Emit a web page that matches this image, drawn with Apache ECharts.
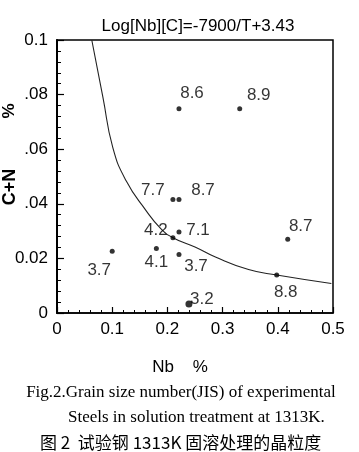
<!DOCTYPE html>
<html>
<head>
<meta charset="utf-8">
<script src="https://cdn.jsdelivr.net/npm/echarts@6/dist/echarts.min.js"></script>
<style>html,body{margin:0;padding:0;background:#fff;}#c{width:359px;height:452px;}</style>
</head>
<body>
<div id="c"></div>
<script>
// Data
const nbValues   = [0.221, 0.331, 0.210, 0.221, 0.221, 0.210, 0.418, 0.100, 0.180, 0.221, 0.398, 0.239];
const cnValues   = [0.0748, 0.0748, 0.0416, 0.0416, 0.0297, 0.0276, 0.0270, 0.0226, 0.0236, 0.0214, 0.0139, 0.0033];
const grainNums  = ['8.6', '8.9', '7.7', '8.7', '7.1', '4.2', '8.7', '3.7', '4.1', '3.7', '8.8', '3.2'];
const curveNb    = [0.063, 0.0833, 0.101, 0.125, 0.161, 0.188, 0.210, 0.250, 0.287, 0.347, 0.398, 0.497];
const curveCN    = [0.100, 0.0789, 0.0607, 0.0485, 0.0376, 0.0309, 0.0276, 0.0242, 0.0205, 0.0159, 0.0139, 0.0108];
const xTickLabels = ['0', '0.1', '0.2', '0.3', '0.4', '0.5'];
const yTickLabels = ['0', '0.02', '.04', '.06', '.08', '0.1'];

// Label placement (layout only)
const labelOffsets = [[13,-15],[19,-13],[-20,-9],[24,-9],[19,-2],[-17,-7],[13,-13],[-13,19],[0,14],[17,12],[9,17],[13,-5]];
const markSizes    = [5,5,5,5,5,5,5,5,5,5,5,7];

const FONT = "'Liberation Sans', Arial, sans-serif";
const chart = echarts.init(document.getElementById('c'), null, {renderer: 'canvas'});

const pts = nbValues.map((v, i) => ({
  value: [v, cnValues[i]],
  symbolSize: markSizes[i],
  label: {show: true, formatter: grainNums[i], position: 'inside', offset: labelOffsets[i]}
}));
const curve = curveNb.map((v, i) => [v, curveCN[i]]);

chart.setOption({
  animation: false,
  backgroundColor: '#fff',
  title: {
    text: 'Log[Nb][C]=-7900/T+3.43',
    left: 193, top: 13, textAlign: 'center',
    textStyle: {fontFamily: FONT, fontSize: 17, fontWeight: 'normal', color: '#000'}
  },
  grid: {left: 57, right: 26, top: 40, bottom: 139, show: true, borderColor: '#000', borderWidth: 1.5, backgroundColor: 'transparent'},
  xAxis: {
    type: 'value', min: 0, max: 0.5, interval: 0.1,
    axisLine: {lineStyle: {color: '#000', width: 1.5}},
    axisTick: {inside: true, length: 6, lineStyle: {color: '#000', width: 1.2}},
    minorTick: {show: true, splitNumber: 5, length: 3, lineStyle: {color: '#000', width: 1}},
    splitLine: {show: false},
    axisLabel: {margin: 8, fontFamily: FONT, fontSize: 17, color: '#000',
      formatter: (v) => xTickLabels[Math.round(v * 10)]}
  },
  yAxis: {
    type: 'value', min: 0, max: 0.1, interval: 0.02,
    axisLine: {lineStyle: {color: '#000', width: 2}},
    axisTick: {inside: true, length: 7, lineStyle: {color: '#000', width: 1.2}},
    minorTick: {show: true, splitNumber: 5, length: 4, lineStyle: {color: '#000', width: 1}},
    splitLine: {show: false},
    axisLabel: {margin: 9, fontFamily: FONT, fontSize: 17, color: '#000',
      formatter: (v) => yTickLabels[Math.round(v * 50)]}
  },
  series: [
    {
      type: 'line', data: curve, smooth: true, symbol: 'none',
      lineStyle: {color: '#222', width: 1.1}, z: 2
    },
    {
      type: 'scatter', data: pts, symbol: 'circle',
      itemStyle: {color: '#000'},
      label: {fontFamily: FONT, fontSize: 17, color: '#000'}, z: 3
    }
  ],
  graphic: [
    {type: 'text', x: 10, y: 187, rotation: Math.PI / 2,
      style: {text: 'C+N', font: "bold 18px 'Liberation Sans', Arial, sans-serif", fill: '#000', align: 'center', verticalAlign: 'middle'}},
    {type: 'text', x: 9, y: 111, rotation: Math.PI / 2,
      style: {text: '%', font: "bold 17px 'Liberation Sans', Arial, sans-serif", fill: '#000', align: 'center', verticalAlign: 'middle'}},
    {type: 'text', x: 180, y: 367,
      style: {text: 'Nb    %', font: "17px 'Liberation Sans', Arial, sans-serif", fill: '#000', align: 'center', verticalAlign: 'middle'}},
    {type: 'text', x: 181, y: 393,
      style: {text: 'Fig.2.Grain size number(JIS) of experimental', font: "17px 'Liberation Serif', 'Times New Roman', serif", fill: '#000', align: 'center', verticalAlign: 'middle'}},
    {type: 'text', x: 68, y: 418,
      style: {text: 'Steels in solution treatment at 1313K.', font: "17px 'Liberation Serif', 'Times New Roman', serif", fill: '#000', align: 'left', verticalAlign: 'middle'}},
    {type: 'text', x: 40, y: 443,
      style: {text: '图 2  试验钢 1313K 固溶处理的晶粒度', font: "17px 'Noto Sans CJK SC', sans-serif", fill: '#000', align: 'left', verticalAlign: 'middle'}}
  ]
});
</script>
</body>
</html>
